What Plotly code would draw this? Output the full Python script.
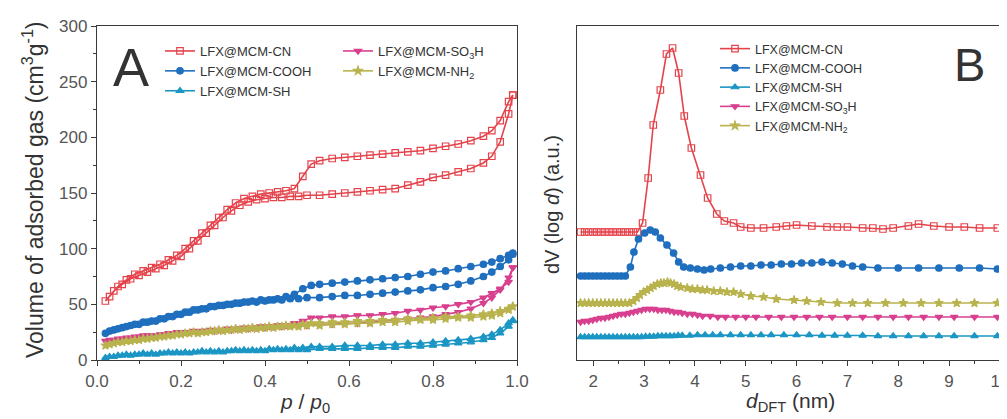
import plotly.graph_objects as go

# ---------------- Panel A data: N2 isotherms ----------------
ads_p = [0.02, 0.04, 0.06, 0.08, 0.10, 0.12, 0.14, 0.16, 0.18, 0.20, 0.22, 0.24, 0.26, 0.28, 0.30,
         0.32, 0.34, 0.36, 0.38, 0.40, 0.42, 0.44, 0.46, 0.48, 0.50, 0.53, 0.56, 0.59, 0.62, 0.65,
         0.68, 0.71, 0.74, 0.77, 0.80, 0.83, 0.86, 0.89, 0.92, 0.94, 0.96, 0.98, 0.99]
des_p = [0.99, 0.98, 0.96, 0.94, 0.92, 0.89, 0.86, 0.83, 0.80, 0.77, 0.74, 0.71, 0.68, 0.65, 0.62,
         0.59, 0.56, 0.53, 0.51, 0.49, 0.47, 0.45, 0.43, 0.41, 0.39, 0.37, 0.35, 0.33, 0.31, 0.29,
         0.27, 0.25, 0.23, 0.21, 0.19, 0.17, 0.15, 0.13, 0.11, 0.09, 0.07, 0.05, 0.03]

cn_ads = [53, 62, 68, 73, 76, 79, 82, 85, 89, 93, 100, 107, 114, 121, 128,
          134, 139, 142, 144, 145, 146, 146, 147, 147, 148, 148, 149, 150, 151, 152,
          153, 154, 157, 160, 164, 166, 169, 172, 177, 183, 196, 221, 238]
cn_des = [238, 232, 215, 206, 201, 197, 194, 192, 190, 188, 187, 186, 185, 184, 183,
          182, 181, 179, 176, 165, 154, 152, 151, 150, 149, 147, 145, 141, 135, 128,
          121, 114, 107, 100, 94, 90, 86, 83, 80, 77, 72, 66, 57]

cooh_ads = [24, 27, 29, 31, 32, 34, 35, 37, 39, 41, 43, 45, 46, 48, 49,
            50, 51, 52, 52, 53, 54, 54, 55, 55, 56, 56, 57, 58, 58, 59,
            60, 61, 62, 63, 65, 66, 68, 71, 75, 79, 84, 90, 95]
cooh_des = [96, 94, 91, 88, 86, 84, 82, 80, 79, 77, 75, 74, 73, 72, 71,
            70, 69, 68, 67, 64, 59, 57, 55, 54, 54, 53, 52, 51, 50, 49,
            48, 46, 45, 43, 41, 39, 37, 35, 34, 32, 30, 28, 26]

sh_ads = [2, 3, 4, 4, 5, 5, 5, 6, 6, 6, 6, 7, 7, 7, 7,
          8, 8, 8, 8, 8, 9, 9, 9, 9, 9, 10, 10, 10, 10, 11,
          11, 11, 12, 12, 13, 14, 15, 16, 18, 20, 24, 30, 35]
sh_des = [36, 33, 27, 23, 21, 19, 18, 17, 16, 15, 15, 14, 14, 13, 13,
          13, 12, 12, 12, 11, 11, 10, 10, 10, 9, 9, 9, 9, 8, 8,
          8, 8, 7, 7, 7, 7, 6, 6, 6, 5, 5, 4, 3]

so3h_ads = [17, 18, 19, 20, 21, 22, 22, 23, 24, 24, 25, 25, 26, 26, 27,
            27, 28, 28, 29, 29, 30, 30, 31, 31, 31, 32, 32, 33, 33, 34,
            35, 36, 37, 38, 39, 41, 43, 46, 51, 56, 63, 74, 83]
so3h_des = [83, 70, 64, 60, 56, 52, 50, 48, 47, 45, 44, 42, 41, 40, 40,
            39, 39, 38, 38, 35, 33, 31, 31, 30, 30, 29, 29, 28, 28, 27,
            27, 26, 26, 25, 25, 24, 23, 22, 22, 21, 20, 19, 18]

nh2_ads = [13, 15, 16, 17, 18, 19, 20, 21, 22, 23, 24, 24, 25, 26, 26,
           27, 27, 28, 28, 29, 29, 30, 30, 30, 31, 31, 32, 32, 33, 33,
           34, 34, 35, 36, 36, 37, 38, 38, 39, 40, 42, 45, 48]
nh2_des = [48, 46, 44, 42, 41, 40, 39, 39, 38, 37, 37, 36, 36, 35, 35,
           34, 34, 33, 33, 32, 31, 31, 30, 30, 29, 29, 28, 28, 27, 27,
           26, 25, 25, 24, 23, 22, 21, 20, 19, 18, 17, 16, 14]

# ---------------- Panel B data: pore size distributions ----------------
cn_d = [1.75, 1.83, 1.91, 1.99, 2.07, 2.15, 2.23, 2.31, 2.39, 2.47, 2.55, 2.63, 2.71, 2.79, 2.87,
        2.97, 3.08, 3.18, 3.32, 3.44, 3.56, 3.68, 3.79, 3.93, 4.11, 4.25, 4.43, 4.58, 4.76, 4.9,
        5.1, 5.35, 5.6, 5.8, 6.0, 6.3, 6.6, 6.8, 7.0, 7.3, 7.5, 7.7, 7.9, 8.2, 8.4,
        8.7, 9.0, 9.3, 9.6, 9.95]
cn_v = [128, 128, 128, 128, 128, 128, 128, 128, 128, 128, 128, 128, 128, 128, 128,
        137, 182, 235, 270, 306, 312, 287, 244, 212, 185, 162, 146, 139, 137, 133,
        132, 132, 133, 134, 135, 134, 133, 133, 133, 132, 132, 131, 132, 134, 136,
        134, 133, 133, 132, 132]

cooh_d = [1.75, 1.83, 1.91, 1.99, 2.07, 2.15, 2.23, 2.31, 2.39, 2.47, 2.55, 2.63,
          2.73, 2.80, 2.89, 3.01, 3.12, 3.22, 3.32, 3.45, 3.58, 3.68, 3.78, 3.91, 4.05, 4.18,
          4.31, 4.50, 4.70, 4.9, 5.1, 5.3, 5.5, 5.7, 5.9, 6.1, 6.3, 6.5, 6.7, 6.9,
          7.1, 7.3, 7.6, 8.0, 8.4, 8.8, 9.2, 9.6, 9.95]
cooh_v = [84, 84, 84, 84, 84, 84, 84, 84, 84, 84, 84, 84,
          93, 108, 121, 127, 130, 128, 122, 115, 107, 98, 93, 92, 91, 90,
          91, 92, 93, 94, 94, 95, 95, 96, 96, 97, 97, 98, 97, 96,
          94, 93, 92, 92, 92, 92, 92, 92, 91]

sh_d = [1.75, 1.83, 1.91, 1.99, 2.07, 2.15, 2.23, 2.31, 2.39, 2.47, 2.55, 2.63, 2.71,
        2.79, 2.87, 2.95, 3.03, 3.11, 3.19, 3.27, 3.35, 3.43, 3.51, 3.59, 3.67, 3.75,
        3.9, 4.05, 4.2, 4.35, 4.5, 4.7, 4.9, 5.1, 5.3, 5.5, 5.75, 6.0, 6.25, 6.5,
        6.75, 7.0, 7.3, 7.6, 7.9, 8.2, 8.5, 8.8, 9.1, 9.5, 9.95]
sh_v = [23, 23, 23, 23, 23, 23, 23, 23, 23, 23, 23, 23, 23,
        23, 23, 23, 23.5, 23.5, 23.5, 24, 24, 24, 24, 24, 24.5, 24.5,
        24.5, 25, 25, 25, 25, 25, 25, 25, 25, 25, 25, 25, 25, 24.5,
        24.5, 24.5, 24.5, 24, 24, 24, 24, 24, 24, 24, 24]

so3h_d = [1.75, 1.83, 1.91, 1.99, 2.07, 2.15, 2.23, 2.31, 2.39, 2.47, 2.55, 2.63, 2.71,
          2.79, 2.87, 2.95, 3.03, 3.11, 3.19, 3.27, 3.35, 3.43, 3.51, 3.59, 3.67, 3.75,
          3.85, 3.95, 4.05, 4.15, 4.3, 4.45, 4.6, 4.8, 5.0, 5.2, 5.45, 5.7, 5.95, 6.2,
          6.45, 6.7, 7.0, 7.3, 7.6, 7.9, 8.2, 8.5, 8.8, 9.1, 9.5, 9.95]
so3h_v = [38, 39, 39, 40, 41, 42, 42, 43, 44, 45, 46, 46, 47,
          48, 49, 50, 51, 51, 51, 50, 50, 50, 49, 48, 48, 47,
          46, 46, 45, 44, 44, 43, 43, 43, 43, 43, 43, 43, 43, 43,
          43, 43, 43, 43, 43, 43, 43, 43, 43, 43, 43, 43]

nh2_d = [1.75, 1.83, 1.91, 1.99, 2.07, 2.15, 2.23, 2.31, 2.39, 2.47, 2.55, 2.63, 2.71,
         2.79, 2.86, 2.92, 2.99, 3.06, 3.13, 3.19, 3.26, 3.33, 3.39, 3.46, 3.52, 3.59,
         3.65, 3.72, 3.85, 3.95, 4.05, 4.15, 4.24, 4.37, 4.5, 4.63, 4.76, 4.9, 5.1, 5.35,
         5.6, 5.95, 6.2, 6.48, 6.8, 7.1, 7.4, 7.75, 8.1, 8.45, 8.8, 9.15, 9.5, 9.95]
nh2_v = [57, 57, 57, 57, 57, 57, 57, 57, 57, 57, 57, 57, 57,
         59, 62, 65, 68, 70, 72, 74, 76, 77, 77, 78, 77, 76,
         74, 73, 72, 71, 71, 70, 70, 69, 69, 68, 68, 66, 64, 63,
         61, 60, 59, 58, 57, 57, 57, 57, 57, 57, 57, 57, 57, 57]

names = ["LFX@MCM-CN", "LFX@MCM-COOH", "LFX@MCM-SH",
         "LFX@MCM-SO<sub>3</sub>H", "LFX@MCM-NH<sub>2</sub>"]
colors = ["#E5434B", "#1F6FBE", "#1B96C4", "#D8408F", "#B9B34E"]
symbols = ["square-open", "circle", "triangle-up", "triangle-down", "star"]

iso_series = [(cn_ads, cn_des), (cooh_ads, cooh_des), (sh_ads, sh_des),
              (so3h_ads, so3h_des), (nh2_ads, nh2_des)]
psd_series = [(cn_d, cn_v), (cooh_d, cooh_v), (sh_d, sh_v), (so3h_d, so3h_v), (nh2_d, nh2_v)]
a_legends = ["legend", "legend", "legend", "legend3", "legend3"]

fig = go.Figure()

for i, (ads, des) in enumerate(iso_series):
    fig.add_trace(go.Scatter(
        x=ads_p + des_p, y=ads + des, mode="lines+markers", name=names[i],
        xaxis="x", yaxis="y", legend=a_legends[i],
        line=dict(color=colors[i], width=1.6),
        marker=dict(symbol=symbols[i], size=6.5, color=colors[i],
                    line=dict(color=colors[i], width=1.2)),
    ))

for i, (d, v) in enumerate(psd_series):
    fig.add_trace(go.Scatter(
        x=d, y=v, mode="lines+markers", name=names[i],
        xaxis="x2", yaxis="y2", legend="legend2",
        line=dict(color=colors[i], width=1.6),
        marker=dict(symbol=symbols[i], size=6.5, color=colors[i],
                    line=dict(color=colors[i], width=1.2)),
    ))

# The page has an 8px body margin: the figure is sized to fit the 1007x419 window.
OFF = 8
W, H = 1007 - OFF, 419 - OFF


def fx(xp):
    return (xp - OFF) / W


def fy(yp):
    return 1 - (yp - OFF) / H


axcol = "#3a3a3a"
tickfont = dict(family="Liberation Sans, Arial, sans-serif", size=17, color="#555555")
ydom = [fy(360), fy(26)]

common = dict(showline=True, linecolor=axcol, linewidth=1.3, mirror=True,
              showgrid=False, zeroline=False, ticks="outside", tickcolor=axcol,
              ticklen=5, tickwidth=1.2, tickfont=tickfont, automargin=False,
              ticklabeloverflow="allow")

leg_common = dict(xanchor="left", yanchor="top", bgcolor="rgba(0,0,0,0)",
                  itemwidth=30, tracegroupgap=0)

fig.update_layout(
    width=W, height=H,
    margin=dict(l=0, r=0, t=0, b=0, autoexpand=False),
    paper_bgcolor="white", plot_bgcolor="white",
    font=dict(family="Liberation Sans, Arial, sans-serif", color="#333333"),
    xaxis=dict(domain=[fx(97), fx(517)], range=[0, 1.0], tickvals=[0, 0.2, 0.4, 0.6, 0.8, 1.0],
               ticktext=["0.0", "0.2", "0.4", "0.6", "0.8", "1.0"],
               minor=dict(dtick=0.1, ticks="outside", ticklen=3, tickcolor=axcol),
               anchor="y", **common),
    yaxis=dict(domain=ydom, range=[0, 300], dtick=50,
               minor=dict(dtick=25, ticks="outside", ticklen=3, tickcolor=axcol),
               anchor="x", **common),
    xaxis2=dict(domain=[fx(577), fx(1000)], range=[1.68, 10.002], dtick=1,
                minor=dict(dtick=0.5, ticks="outside", ticklen=3, tickcolor=axcol),
                anchor="y2", **common),
    yaxis2=dict(domain=ydom, range=[0, 334], showline=True, linecolor=axcol, linewidth=1.3,
                mirror=True, showgrid=False, zeroline=False, showticklabels=False, ticks="",
                anchor="x2", automargin=False),
    legend=dict(x=fx(160), y=fy(36), font=dict(size=13, color="#333333"), **leg_common),
    legend3=dict(x=fx(338), y=fy(36), font=dict(size=13, color="#333333"), **leg_common),
    legend2=dict(x=fx(715), y=fy(34), font=dict(size=12.5, color="#333333"), **leg_common),
)

ann_font = dict(family="Liberation Sans, Arial, sans-serif", color="#333333")


def ann(text, x, y, size, angle=0):
    fig.add_annotation(text=text, x=fx(x), y=fy(y), xref="paper", yref="paper",
                       xanchor="center", yanchor="middle", textangle=angle,
                       showarrow=False, font=dict(size=size, **ann_font))


ann("A", 131, 67, 54)
ann("B", 969, 65, 47)
ann("Volume of adsorbed gas (cm<sup>3</sup>g<sup>-1</sup>)", 33, 190, 23, -90)
ann("<i>p</i> / <i>p</i><sub>0</sub>", 305, 403, 21)
ann("dV (log <i>d</i>) (a.u.)", 552, 205, 20, -90)
ann("<i>d</i><sub>DFT</sub> (nm)", 790, 402, 21)

fig.write_html("out.html")
